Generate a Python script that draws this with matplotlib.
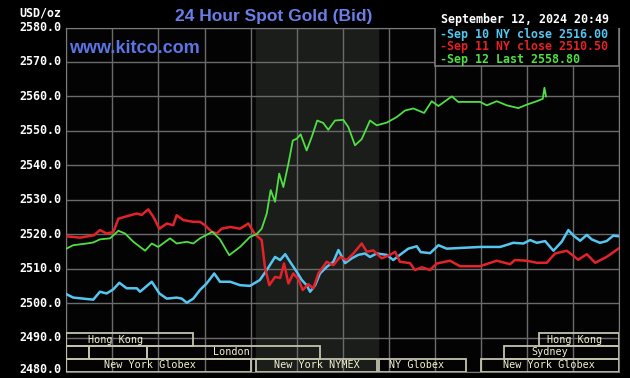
import matplotlib.pyplot as plt
from matplotlib.patches import Rectangle

# hours since start of 24h window / price
sep10_h = [0.0, 0.30, 0.74, 1.17, 1.46, 1.75, 2.04, 2.30, 2.62, 3.06, 3.20, 3.71, 4.04, 4.36,
           4.79, 5.01, 5.23, 5.51, 5.80, 6.09, 6.42, 6.67, 7.11, 7.54, 7.97, 8.40, 8.70, 9.06,
           9.28, 9.50, 9.71, 10.00, 10.22, 10.43, 10.58, 10.80, 11.01, 11.30, 11.59, 11.81,
           12.10, 12.39, 12.67, 12.96, 13.18, 13.47, 13.91, 14.19, 14.48, 14.84, 15.21, 15.38,
           15.79, 16.15, 16.51, 17.96, 18.83, 19.40, 19.84, 20.13, 20.42, 20.78, 21.14, 21.50,
           21.79, 22.01, 22.30, 22.59, 22.80, 23.16, 23.45, 23.74, 23.96]
sep10_p = [2502.6, 2501.6, 2501.3, 2501.0, 2503.3, 2502.8, 2504.0, 2505.9, 2504.3, 2504.3,
           2503.3, 2506.2, 2502.8, 2501.3, 2501.6, 2501.3, 2500.1, 2501.3, 2503.8, 2505.7,
           2508.6, 2506.2, 2506.2, 2505.2, 2505.0, 2506.7, 2509.6, 2513.4, 2512.5, 2514.2,
           2512.0, 2509.1, 2506.7, 2505.2, 2503.3, 2505.2, 2508.6, 2510.5, 2512.0, 2515.4,
           2511.6, 2513.0, 2514.0, 2514.4, 2513.4, 2514.4, 2514.0, 2512.5, 2514.0, 2515.8,
           2516.5, 2514.8, 2514.5, 2516.8, 2515.8, 2516.3, 2516.3, 2517.5, 2517.3, 2518.3,
           2517.5, 2518.0, 2515.2, 2517.8, 2521.2, 2519.6, 2518.1, 2519.8, 2518.5, 2517.5,
           2518.0, 2519.6, 2519.4]

sep11_h = [0.0, 0.6, 1.2, 1.46, 1.75, 2.04, 2.26, 2.62, 3.06, 3.27, 3.56, 3.78, 4.04, 4.36,
           4.64, 4.79, 5.08, 5.51, 5.80, 6.02, 6.31, 6.53, 6.74, 7.11, 7.54, 7.90, 8.19, 8.48,
           8.62, 8.81, 9.06, 9.28, 9.45, 9.64, 9.85, 10.07, 10.26, 10.50, 10.72, 10.94, 11.30,
           11.59, 11.88, 12.17, 12.46, 12.82, 13.04, 13.32, 13.69, 14.05, 14.27, 14.48, 14.92,
           15.13, 15.44, 15.78, 16.08, 16.65, 17.09, 17.95, 18.68, 19.26, 19.47, 19.98, 20.42,
           20.85, 21.21, 21.72, 22.22, 22.59, 22.95, 23.45, 23.96]
sep11_p = [2519.4, 2519.0, 2519.7, 2521.2, 2520.2, 2520.6, 2524.5, 2525.2, 2526.0, 2525.6,
           2527.2, 2525.0, 2521.6, 2523.1, 2522.6, 2525.5, 2524.1, 2523.6, 2523.6, 2522.6,
           2520.7, 2520.2, 2521.6, 2522.1, 2521.6, 2523.1, 2520.0, 2518.3, 2510.5, 2505.2,
           2507.6, 2507.3, 2511.5, 2505.7, 2508.6, 2507.0, 2503.8, 2505.5, 2504.3, 2508.6,
           2512.0, 2511.0, 2513.4, 2512.5, 2514.4, 2517.3, 2514.9, 2515.3, 2513.0, 2514.0,
           2514.9, 2512.0, 2511.6, 2509.6, 2510.4, 2509.6, 2511.5, 2512.3, 2510.7, 2510.7,
           2512.3, 2511.3, 2512.5, 2512.3, 2511.7, 2511.7, 2514.4, 2515.2, 2512.6, 2514.2,
           2511.7, 2513.4, 2515.8]

sep12_h = [0.0, 0.30, 0.89, 1.17, 1.46, 1.90, 2.26, 2.55, 2.91, 3.42, 3.71, 3.99, 4.50, 4.79,
           5.23, 5.51, 5.80, 6.34, 6.67, 7.07, 7.54, 7.97, 8.26, 8.48, 8.70, 8.87, 9.06, 9.24,
           9.42, 9.64, 9.83, 10.00, 10.17, 10.43, 10.65, 10.89, 11.15, 11.37, 11.66, 12.02,
           12.24, 12.53, 12.82, 13.18, 13.47, 13.91, 14.34, 14.70, 15.06, 15.53, 15.86, 16.15,
           16.73, 17.01, 17.96, 18.25, 18.68, 19.12, 19.62, 19.98, 20.42, 20.68, 20.75, 20.82]
sep12_p = [2515.8, 2516.8, 2517.3, 2517.6, 2518.5, 2518.8, 2521.0, 2520.2, 2517.8, 2515.2,
           2517.3, 2516.3, 2518.8, 2517.3, 2517.8, 2517.3, 2518.8, 2520.7, 2518.5, 2513.9,
           2516.3, 2519.2, 2520.0, 2521.6, 2526.0, 2532.8, 2529.4, 2537.6, 2533.7, 2540.5,
           2547.2, 2547.7, 2549.0, 2544.3, 2548.2, 2553.0, 2552.3, 2550.3, 2553.0, 2553.2,
           2551.1, 2545.8, 2547.6, 2553.0, 2551.6, 2552.4, 2554.0, 2555.9, 2556.5, 2555.2,
           2558.6, 2557.2, 2560.0, 2558.4, 2558.4, 2557.4, 2558.6, 2557.4, 2556.6, 2557.6,
           2558.6, 2559.3, 2562.5, 2560.0]

price_ticks = list(range(2480, 2581, 10))
legend_labels = ["-Sep 10 NY close 2516.00", "-Sep 11 NY close 2510.50", "-Sep 12 Last 2558.80"]
legend_y = [2578.0, 2574.5, 2570.7]
colors = ["#55c6f2", "#e3222a", "#4fe043"]

# market sessions: (row, start hour, end hour, label, label centre)
sessions = [
    (0, 0.0, 5.5, "Hong Kong", 2.12),
    (0, 20.5, 24.0, "Hong Kong", 22.04),
    (1, 0.0, 1.0, "", 0),
    (1, 1.0, 3.5, "", 0),
    (1, 3.5, 11.0, "London", 7.15),
    (1, 19.0, 24.0, "Sydney", 20.97),
    (2, 0.0, 8.0, "New York Globex", 3.63),
    (2, 8.25, 13.5, "New York NYMEX", 10.88),
    (2, 13.55, 17.33, "NY Globex", 15.18),
    (2, 18.0, 24.0, "New York Globex", 20.95),
]
row_bounds = [(2487.6, 2491.2), (2483.8, 2487.6), (2480.0, 2483.8)]

mono = "DejaVu Sans Mono"
fig = plt.figure(figsize=(6.3, 3.78), dpi=100, facecolor="black")
ax = fig.add_axes([66.3 / 630, 6 / 378, 553 / 630, 344.5 / 378], facecolor="#030303")
ax.set_xlim(0, 24)
ax.set_ylim(2480, 2580)

ax.axvspan(8.25, 13.52, color="#1b1d1b", zorder=0)
ax.set_xticks(range(0, 25, 2))
ax.set_yticks(price_ticks)
ax.grid(True, color="#6a6a6a", lw=1.0, zorder=1)
ax.tick_params(length=0, labelbottom=False, labelleft=False)
for s in ax.spines.values():
    s.set_color("#7a7a7a")

# y labels drawn by hand so the bottom one can sit a touch higher
for v in price_ticks:
    dy = 2.5 if v == 2480 else 0
    ax.annotate("%.1f" % v, (0, v), xycoords=("axes fraction", "data"),
                xytext=(-5, dy), textcoords="offset pixels", family=mono,
                weight="bold", size=8.4, color="white", ha="right", va="center",
                annotation_clip=False)

for r, x0, x1, lab, xc in sessions:
    y0, y1 = row_bounds[r]
    ax.add_patch(Rectangle((x0, y0), x1 - x0, y1 - y0, fill=False, ec="#c4c4ac",
                           lw=1.3, zorder=3))
    if lab:
        ax.text(xc, (y0 + y1) / 2, lab, family=mono, size=7.3, color="#f2f0d2",
                ha="center", va="center", zorder=4)

ax.plot(sep10_h, sep10_p, color=colors[0], lw=1.8, zorder=5)
ax.plot(sep11_h, sep11_p, color=colors[1], lw=1.8, zorder=5)
ax.plot(sep12_h, sep12_p, color=colors[2], lw=1.3, zorder=6)

# legend box
ax.add_patch(Rectangle((16.0, 2568.8), 8.0, 11.2, fc="black", ec="#7a7a7a", lw=1.2, zorder=7))
for lab, c, y in zip(legend_labels, colors, legend_y):
    ax.text(16.22, y, lab, family=mono, weight="bold", size=8.4, color=c,
            va="center", ha="left", zorder=8)

fig.text(274 / 630, 1 - 16 / 378, "24 Hour Spot Gold (Bid)", family="Liberation Sans",
         weight="bold", size=12.5, color="#6a7ee8", ha="center", va="center")
fig.text(441 / 630, 1 - 19 / 378, "September 12, 2024 20:49", family=mono, weight="bold",
         size=8.4, color="white", ha="left", va="center")
fig.text(61 / 630, 1 - 13 / 378, "USD/oz", family=mono, weight="bold", size=8.4,
         color="white", ha="right", va="center")
ax.text(0.1, 2574.0, "www.kitco.com", family="Liberation Sans", weight="bold", size=13,
        color="#5b74e6", ha="left", va="center", zorder=4)

fig.savefig("out.png", dpi=100, facecolor="black")
